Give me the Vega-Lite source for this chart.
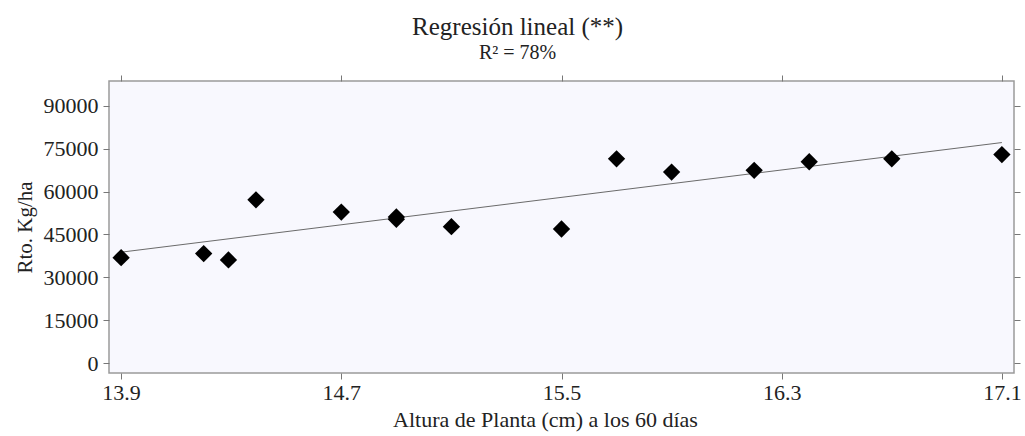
{
  "$schema": "https://vega.github.io/schema/vega-lite/v6.json",
  "width": 905,
  "height": 292,
  "autosize": {"type": "none"},
  "padding": {"left": 109, "top": 81, "right": 11, "bottom": 63},
  "background": "white",
  "config": {
    "font": "Liberation Serif",
    "view": {"fill": "#f8f8fe", "stroke": "#9a9a9a", "strokeWidth": 1.5},
    "axis": {"domain": false, "grid": false, "tickColor": "#777", "labelColor": "#222", "titleColor": "#222", "labelFont": "Liberation Serif", "titleFont": "Liberation Serif", "titleFontWeight": "normal"}
  },
  "title": {
    "text": "Regresión lineal (**)",
    "subtitle": "R² = 78%",
    "frame": "bounds",
    "anchor": "middle",
    "font": "Liberation Serif",
    "fontSize": 25,
    "fontWeight": "normal",
    "color": "#222",
    "subtitleFont": "Liberation Serif",
    "subtitleFontSize": 20,
    "subtitleColor": "#222",
    "subtitlePadding": 3,
    "offset": 12
  },
  "datasets": {
    "pts": [
      {"altura": 13.9, "rto": 36900},
      {"altura": 14.2, "rto": 38300},
      {"altura": 14.29, "rto": 36100},
      {"altura": 14.39, "rto": 57100},
      {"altura": 14.7, "rto": 52800},
      {"altura": 14.9, "rto": 50300},
      {"altura": 14.9, "rto": 51100},
      {"altura": 15.1, "rto": 47700},
      {"altura": 15.5, "rto": 46900},
      {"altura": 15.7, "rto": 71400},
      {"altura": 15.9, "rto": 66800},
      {"altura": 16.2, "rto": 67400},
      {"altura": 16.4, "rto": 70400},
      {"altura": 16.7, "rto": 71400},
      {"altura": 17.1, "rto": 72900}
    ],
    "fit": [
      {"altura": 13.9, "rto": 38800},
      {"altura": 17.1, "rto": 77100}
    ]
  },
  "layer": [
    {
      "data": {"name": "fit"},
      "mark": {"type": "line", "color": "#6a6a6a", "strokeWidth": 1},
      "encoding": {
        "x": {"field": "altura", "type": "quantitative", "scale": {"domain": [13.856, 17.144], "nice": false, "zero": false},
          "axis": {"orient": "top", "labels": false, "title": null, "values": [13.9, 14.7, 15.5, 16.3, 17.1], "tickSize": 6}},
        "y": {"field": "rto", "type": "quantitative", "scale": {"domain": [-3400, 98600], "nice": false, "zero": false},
          "axis": {"orient": "right", "labels": false, "title": null, "values": [0, 15000, 30000, 45000, 60000, 75000, 90000], "tickSize": 6}}
      }
    },
    {
      "data": {"name": "pts"},
      "mark": {"type": "point", "shape": "diamond", "filled": true, "color": "black", "opacity": 1, "size": 300},
      "encoding": {
        "x": {"field": "altura", "type": "quantitative",
          "axis": {"orient": "bottom", "title": "Altura de Planta (cm) a los 60 días", "values": [13.9, 14.7, 15.5, 16.3, 17.1], "format": ".1f", "tickSize": 6, "labelFontSize": 22, "labelPadding": 3, "titleFontSize": 22, "titlePadding": 6, "titleX": 436}},
        "y": {"field": "rto", "type": "quantitative",
          "axis": {"orient": "left", "title": "Rto. Kg/ha", "values": [0, 15000, 30000, 45000, 60000, 75000, 90000], "format": "d", "tickSize": 6, "labelFontSize": 22, "labelPadding": 5, "titleFontSize": 21, "titlePadding": 8}}
      }
    }
  ],
  "resolve": {"axis": {"x": "independent", "y": "independent"}}
}
